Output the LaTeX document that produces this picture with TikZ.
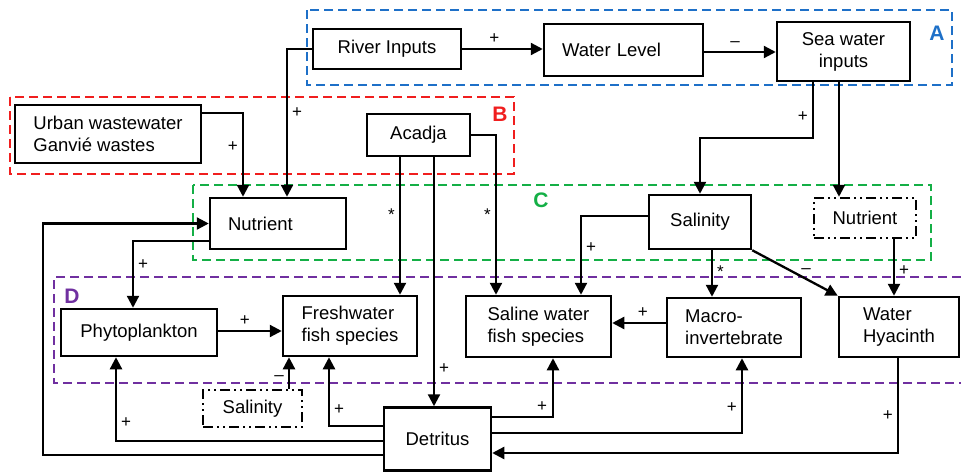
\documentclass[tikz,border=0pt]{standalone}
\usepackage{fontspec}
\setmainfont{Liberation Sans}
\usetikzlibrary{arrows.meta}
\definecolor{zoneA}{RGB}{30,112,200}
\definecolor{zoneB}{RGB}{240,30,30}
\definecolor{zoneC}{RGB}{20,175,70}
\definecolor{zoneD}{RGB}{112,48,160}
\tikzstyle{box}=[draw,line width=2.5pt,inner sep=2pt,font=\fontsize{18.5}{22}\selectfont,align=left]
\tikzstyle{dbox}=[box,dash pattern=on 10pt off 4pt on 2pt off 4pt on 2pt off 4pt]
\tikzstyle{zone}=[line width=2.3pt,dash pattern=on 9pt off 5pt]
\tikzstyle{lbl}=[font=\fontsize{17}{19}\selectfont,inner sep=4pt]
\tikzstyle{tag}=[font=\bfseries\fontsize{21}{24}\selectfont]

\begin{document}
\begin{tikzpicture}[x=1pt,y=-1pt,line width=2.3pt,>={Triangle[length=12pt,width=12pt]}]
\useasboundingbox (0,0) rectangle (961,472);
\draw[zone,zoneA] (307,10) rectangle (952,85);
\draw[zone,zoneB] (10,97) rectangle (514,174);
\draw[zone,zoneC] (193,185) rectangle (931,260);
\draw[zone,zoneD] (961,277) -- (54,277) -- (54,383) -- (961,383);
\node[tag,zoneA] at (937,33) (tA) {A};
\node[tag,zoneB] at (500,114) (tB) {B};
\node[tag,zoneC] at (541,200) (tC) {C};
\node[tag,zoneD] at (72,296) (tD) {D};
\node[box,minimum width=148,minimum height=40] at (387,49) (river) {River Inputs};
\node[box,text width=123,inner xsep=18,minimum height=52] at (623.5,50) (level) {Water Level};
\node[box,align=center,minimum width=133,minimum height=59] at (843.5,51.5) (sea) {Sea water\\inputs};
\node[box,minimum width=186,minimum height=58] at (108,134) (urban) {Urban wastewater\\Ganvié wastes};
\node[box,minimum width=103,minimum height=42] at (418.5,135) (acadja) {Acadja};
\node[box,text width=100,inner xsep=18,minimum height=51] at (278,223.5) (nutA) {Nutrient};
\node[box,minimum width=102,minimum height=54] at (700,222) (salA) {Salinity};
\node[dbox,minimum width=102,minimum height=40] at (865,218) (nutB) {Nutrient};
\node[box,minimum width=156,minimum height=47] at (139,332.5) (phyto) {Phytoplankton};
\node[box,minimum width=134,minimum height=60] at (350,326) (fresh) {Freshwater\\fish species};
\node[dbox,minimum width=99,minimum height=37] at (252.5,408.5) (salB) {Salinity};
\node[box,minimum width=107,minimum height=63] at (437.5,439) (detritus) {Detritus};
\node[box,minimum width=145,minimum height=61] at (538.5,326.5) (saline) {Saline water\\fish species};
\node[box,minimum width=134,minimum height=59] at (734,327.5) (macro) {Macro-\\invertebrate};
\node[box,minimum width=120,minimum height=60] at (899,327) (hyacinth) {Water\\Hyacinth};
\draw[->] (river.east) -- node[lbl,pos=0.4,above] {+} (river.east -| level.west);
\draw[->] ([yshift=-2]level.east) -- node[lbl,pos=0.43,above] {\textendash} ([yshift=-2]level.east -| sea.west);
\draw[->] (river.west) -| node[lbl,pos=0.715,right] {+} ([xshift=9]nutA.north);
\draw[->] ([yshift=21]urban.east) -| node[lbl,pos=0.7,left] {+} ([xshift=-35]nutA.north);
\draw[->] ([xshift=-18.5]acadja.south) -- node[lbl,pos=0.42,left] {*} ([xshift=-18.5]acadja.south |- fresh.north);
\draw[->] ([xshift=15.5]acadja.south) -- node[lbl,pos=0.85,right] {+} ([xshift=15.5]acadja.south |- detritus.north);
\draw[->] (acadja.east) -| node[lbl,pos=0.75,left] {*} ([xshift=-42.5]saline.north);
\draw[->] ([xshift=-30.5]sea.south) -- node[lbl,pos=0.62,left] {+} ++(0,56) -| (salA.north);
\draw[->] ([xshift=-4.5]sea.south) -- ([xshift=-4.5]sea.south |- nutB.north);
\draw[->] ([yshift=6]salA.west) -| node[lbl,pos=0.7,right] {+} ([xshift=42.5]saline.north);
\draw[->] ([xshift=12]salA.south) -- node[lbl,pos=0.47,right] {*} ([xshift=12]salA.south |- macro.north);
\draw[->] (salA.south east) -- node[lbl,pos=0.55,above right,inner sep=1pt] {\textendash} (hyacinth.north west);
\draw[->] ([xshift=29]nutB.south) -- node[lbl,pos=0.55,right] {+} ([xshift=29]nutB.south |- hyacinth.north);
\draw[->] ([yshift=4.5]macro.west) -- node[lbl,pos=0.43,above] {+} ([yshift=4.5]macro.west -| saline.east);
\draw[->] ([yshift=-17.5]nutA.west) -| node[lbl,pos=0.68,right] {+} ([xshift=-6]phyto.north);
\draw[->] ([yshift=1.5]phyto.east) -- node[lbl,pos=0.42,above] {+} ([yshift=1.5]phyto.east -| fresh.west);
\draw[->] ([xshift=36.5]salB.north) -- node[lbl,pos=0.35,left] {\textendash} ([xshift=36.5]salB.north |- fresh.south);
\draw[->] ([yshift=13]detritus.west) -| node[lbl,pos=0.62,right] {+} ([xshift=-21]fresh.south);
\draw[->] ([yshift=-2]detritus.west) -| node[lbl,pos=0.61,right] {+} ([xshift=-23]phyto.south);
\draw[->] ([yshift=-16]detritus.west) -| ([xshift=-166]nutA.west) -- (nutA.west);
\draw[->] ([yshift=22]detritus.east) -| node[lbl,pos=0.41,above] {+} ([xshift=14.5]saline.south);
\draw[->] ([yshift=6]detritus.east) -| node[lbl,pos=0.67,left] {+} ([xshift=8]macro.south);
\draw[->] ([xshift=-1]hyacinth.south) |- node[lbl,pos=0.3,left] {+} ([yshift=-14]detritus.east);
\end{tikzpicture}
\end{document}
